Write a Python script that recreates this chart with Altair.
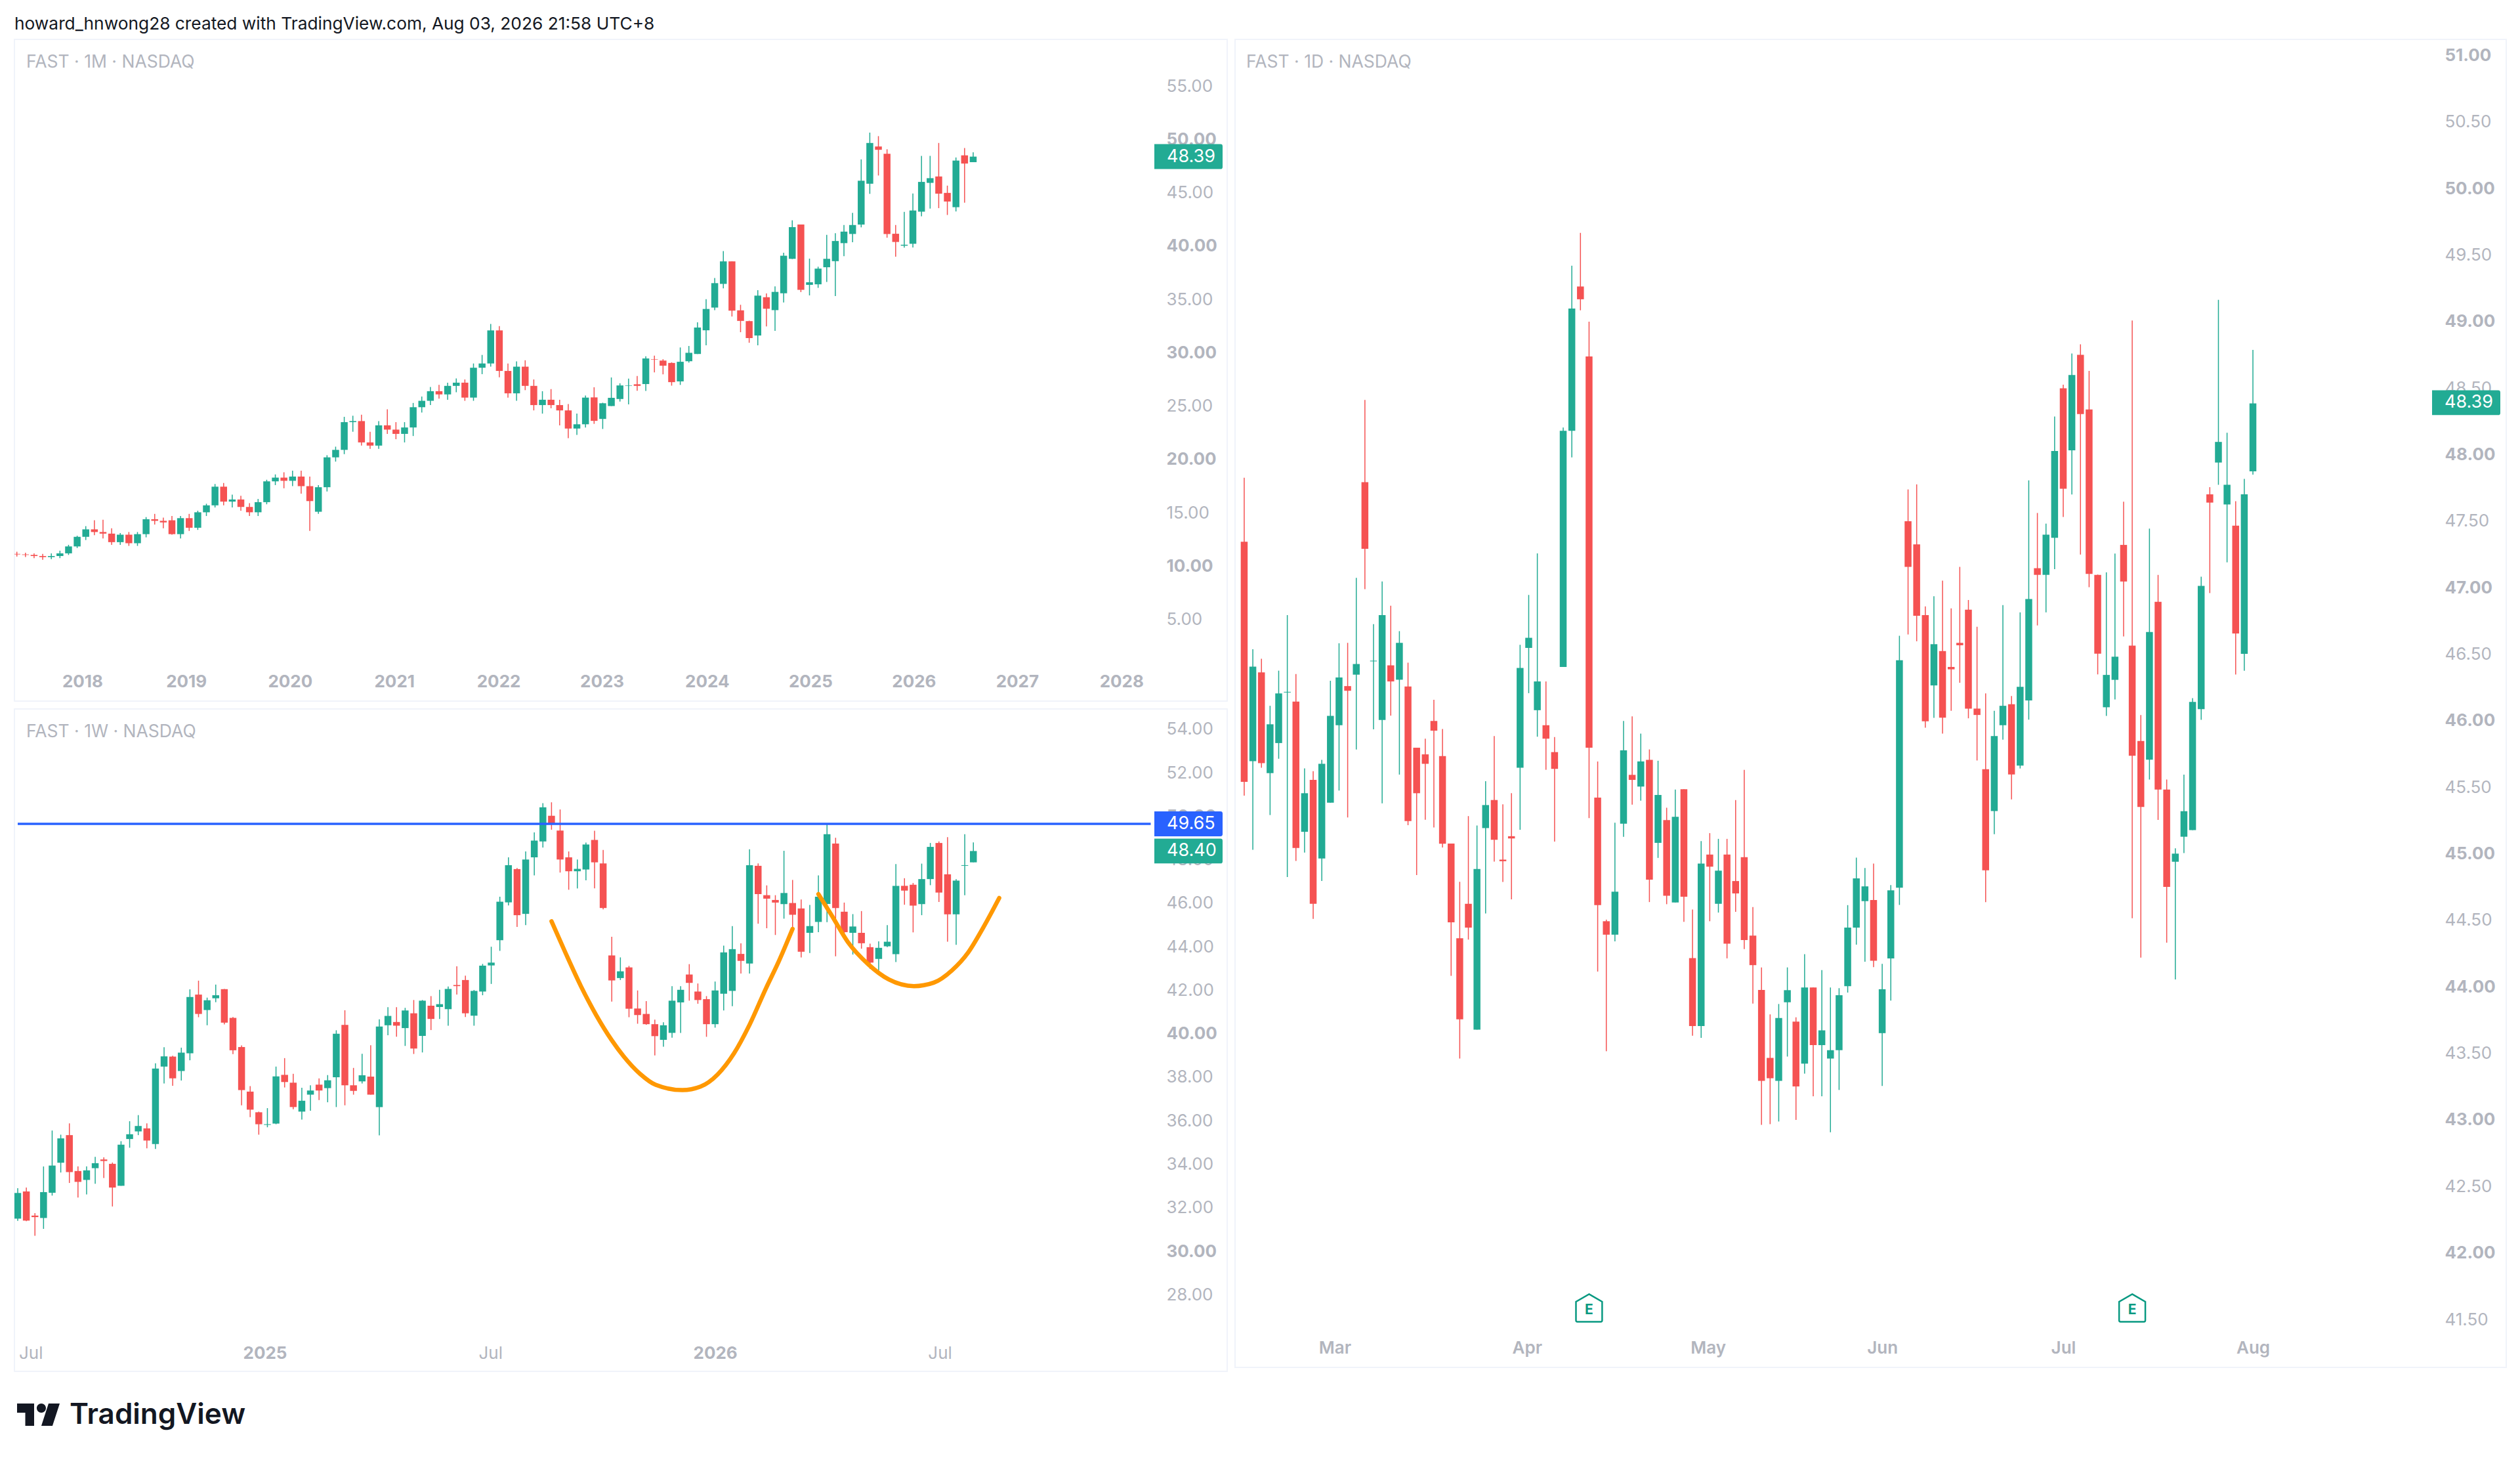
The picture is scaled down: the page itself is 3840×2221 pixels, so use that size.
import altair as alt
import pandas as pd

GREEN = "#22AB94"
RED = "#F55252"
BLUE = "#2962FF"
ORANGE = "#FF9800"
GREY = "#B2B5BE"
BORDER = "#F0F3FA"
FONT = "Inter"

# ---------- monthly ----------
m_open = [11.15,11.10,11.05,10.95,10.85,10.95,11.20,11.85,12.75,13.45,
          13.20,13.05,12.25,12.95,12.15,13.00,14.40,14.25,14.30,13.00,
          14.50,13.60,15.05,15.70,17.45,16.05,16.25,15.55,15.05,16.00,
          17.95,18.30,18.00,18.40,17.50,15.10,17.40,20.20,20.90,23.50,
          23.60,21.60,21.30,23.20,22.80,22.40,23.00,24.90,25.50,26.40,
          26.10,26.90,27.20,25.80,28.60,29.00,32.10,28.30,26.20,28.70,
          26.90,25.10,25.60,25.10,24.60,22.90,23.30,
          25.82,23.80,25.01,25.67,26.90,27.05,27.07,29.40,29.27,29.05,
          27.32,29.21,29.89,32.11,34.24,36.46,38.57,33.98,32.97,31.62,
          35.21,34.00,35.58,38.81,42.02,36.37,36.42,38.02,38.59,40.28,
          41.14,42.02,45.85,49.34,48.66,41.16,40.04,40.22,43.23,45.93,
          46.53,44.99,43.65,48.51,47.87]
m_high = [11.35,11.25,11.20,11.15,11.20,11.45,12.00,12.85,13.75,14.30,
          14.35,13.55,13.10,13.20,13.20,14.60,14.90,14.55,14.70,14.70,
          14.90,15.20,15.85,17.70,17.80,16.70,16.60,15.90,16.30,18.10,
          18.60,18.80,18.95,18.95,18.40,17.60,20.40,21.20,24.00,24.10,
          24.20,22.60,23.60,24.70,23.50,23.50,25.30,25.90,26.80,27.00,
          27.20,27.60,27.50,29.00,29.80,32.70,32.50,29.00,29.20,29.30,
          27.50,26.40,26.60,25.60,25.20,24.30,26.00,
          26.77,25.32,27.69,27.14,27.58,27.82,29.67,29.73,29.40,29.10,
          30.50,30.64,32.86,35.03,37.01,39.54,38.57,34.50,33.01,35.87,
          35.56,36.22,39.38,42.42,42.02,38.83,38.07,41.05,41.21,41.98,
          43.12,48.13,50.64,50.31,49.08,41.98,43.21,44.94,48.46,48.46,
          49.67,45.67,48.31,49.19,48.79]
m_low = [10.90,10.85,10.75,10.60,10.65,10.75,11.05,11.70,12.45,12.90,
         12.60,12.00,12.00,11.90,11.90,12.70,13.90,13.55,12.95,12.60,
         13.30,13.40,14.70,15.50,15.70,15.50,15.20,14.70,14.70,15.80,
         17.60,17.30,17.50,16.80,13.30,14.90,17.00,19.80,20.50,22.60,
         21.30,21.00,21.00,22.40,21.90,21.60,22.20,24.40,25.10,25.70,
         25.60,26.30,25.50,25.50,28.00,28.70,27.70,25.80,25.50,26.50,
         24.60,24.30,24.80,23.20,22.00,22.30,23.00,
         23.34,22.86,25.01,25.43,25.16,26.44,26.42,28.17,27.98,26.92,
         26.99,29.08,29.89,30.70,34.00,36.04,33.40,31.93,30.94,30.70,
         32.48,32.06,34.72,38.79,35.69,35.38,36.09,36.64,35.32,39.05,
         40.37,41.76,44.90,46.62,40.79,39.01,39.85,39.87,42.79,43.52,
         43.56,42.92,43.25,44.07,47.87]
m_close = [11.10,11.05,10.95,10.85,10.95,11.20,11.85,12.75,13.45,13.20,
           13.05,12.25,12.95,12.15,13.00,14.40,14.25,14.10,13.00,14.50,
           13.60,15.05,15.70,17.45,16.05,16.25,15.55,15.05,16.00,17.95,
           18.30,18.00,18.40,17.50,16.10,17.40,20.20,20.90,23.50,23.60,
           21.60,21.30,23.20,22.80,22.40,23.00,24.90,25.50,26.40,26.10,
           26.90,27.20,25.80,28.60,29.00,32.10,28.30,26.20,28.70,26.90,
           25.10,25.60,25.10,24.60,22.90,23.30,25.80,
           23.62,25.27,25.78,26.94,26.94,26.90,29.47,29.36,28.79,27.25,
           29.16,30.00,32.37,34.11,36.53,38.57,33.95,32.99,31.38,35.36,
           34.13,35.71,39.10,41.78,35.91,36.61,37.89,38.81,40.48,41.36,
           41.98,46.13,49.67,49.03,41.14,40.39,40.13,43.34,46.02,46.37,
           44.92,44.18,48.02,47.74,48.39]
m_ticks = [7.6,19.65,31.7,43.8,55.9,67.9,80.1,92.1,104.1,116.1,128.2]
m_tick_labels = ["2018","2019","2020","2021","2022","2023","2024","2025","2026","2027","2028"]
m_prices = [5,10,15,20,25,30,35,40,45,50,55]

# ---------- weekly ----------
w_open = [31.50,32.75,31.64,31.53,32.69,34.07,35.34,33.69,33.28,33.82,
          34.22,34.02,33.01,35.16,35.51,35.65,34.93,38.49,38.95,38.29,
          39.10,41.80,41.09,41.63,42.05,40.73,39.39,37.34,36.39,35.81,
          35.87,38.11,37.75,36.42,37.20,37.66,37.50,38.00,40.41,37.63,
          37.81,38.03,36.63,40.39,40.54,40.26,40.94,39.90,41.29,41.23,
          41.13,42.24,42.47,40.83,41.94,43.14,44.30,46.04,47.57,45.51,
          48.11,48.84,50.02,49.34,48.11,47.47,47.55,48.91,47.83,43.60,
          42.56,43.05,41.16,40.91,40.44,39.72,40.04,41.44,42.72,41.94,
          41.59,40.44,41.84,41.97,43.67,43.23,47.72,46.37,46.15,45.96,
          46.01,45.76,44.64,45.14,45.97,48.74,45.61,44.64,44.64,43.98,
          43.44,44.02,43.66,46.80,46.85,45.96,47.11,48.77,47.33,45.49,
          47.72,47.88]
w_high = [32.90,32.93,31.75,33.90,35.55,35.36,35.88,33.90,33.90,34.34,
          34.32,34.08,35.06,35.98,36.26,35.88,38.64,39.38,38.99,39.36,
          42.04,42.44,41.66,42.26,42.06,40.77,39.46,37.59,36.42,36.58,
          38.49,38.88,38.16,37.52,37.63,37.95,38.10,40.16,41.08,38.43,
          39.08,39.47,40.66,41.22,41.22,41.19,41.55,41.55,41.73,42.02,
          42.17,43.10,42.67,42.01,43.21,44.00,46.30,48.11,47.62,48.38,
          49.26,50.60,50.64,50.31,48.38,48.01,48.79,49.33,48.45,44.46,
          43.51,43.12,41.99,41.50,40.65,40.53,42.19,42.19,43.20,42.31,
          41.73,42.40,44.05,44.95,44.16,48.48,47.83,46.82,46.37,48.41,
          47.07,46.17,45.92,47.28,49.67,49.01,46.03,45.50,45.64,44.14,
          44.25,44.99,47.80,47.15,46.93,47.82,48.77,48.84,49.04,47.11,
          49.17,48.80]
w_low = [31.40,31.38,30.71,31.03,32.56,33.62,33.14,32.47,32.61,33.10,
         33.37,32.06,33.01,34.76,35.34,34.73,34.70,37.71,37.61,37.85,
         38.78,40.76,40.39,41.45,40.43,39.06,36.71,36.17,35.36,35.70,
         35.84,37.53,36.53,36.05,36.46,36.95,36.85,36.63,36.71,37.20,
         37.71,37.20,35.33,39.93,39.86,39.44,39.07,39.14,40.17,40.68,
         40.37,41.80,40.77,40.37,41.77,42.29,43.81,45.90,44.91,44.99,
         47.28,48.56,49.38,47.41,46.62,46.68,47.05,46.68,45.72,41.48,
         42.47,40.76,40.46,40.41,39.00,39.40,39.82,40.04,41.52,41.38,
         39.86,40.28,41.07,41.27,42.77,42.77,45.06,44.85,44.54,45.29,
         44.85,43.51,43.71,44.67,45.13,43.56,44.60,43.64,43.91,42.98,
         42.91,43.98,43.30,45.93,44.66,45.45,46.83,46.06,44.23,44.09,
         46.37,47.88]
w_close = [32.68,31.41,31.57,32.72,33.94,35.19,33.64,33.19,33.72,34.05,
           34.15,32.93,34.90,35.38,35.76,35.09,38.40,38.96,37.95,39.13,
           41.69,40.91,41.54,41.77,40.51,39.24,37.41,36.51,35.84,35.84,
           38.04,37.78,36.63,36.92,37.39,37.39,37.86,40.00,37.63,37.37,
           38.09,37.20,40.33,40.82,40.37,41.07,39.32,41.52,40.68,41.36,
           42.06,42.19,40.94,41.97,43.13,43.27,46.07,47.75,45.45,48.01,
           48.88,50.41,49.66,48.01,47.47,47.58,48.70,47.88,45.78,42.45,
           42.87,41.15,40.86,40.44,39.89,40.39,41.52,42.02,42.34,41.55,
           40.44,41.99,43.74,43.89,43.35,47.75,46.42,46.21,46.03,46.47,
           45.47,43.77,44.95,46.30,49.17,45.78,44.67,44.93,44.16,43.27,
           43.95,44.23,46.80,46.58,45.89,47.11,48.59,46.49,45.49,47.04,
           47.75,48.40]
w_ticks = [1.5,28.7,54.9,81,107.1]
w_tick_labels = ["Jul","2025","Jul","2026","Jul"]
w_bold_ticks = [28.7,81]
w_prices = [28,30,32,34,36,38,40,42,44,46,48,50,52,54]
resistance_price = [49.65]
resistance_from = [0]
resistance_to = [131.6]
cup_x = [62.0,63.6,65.4,67.2,69.0,70.4,72.3,74.1,77.2,79.3,81.3,83.2,85.0,86.9,88.4,90.0]
cup_y = [45.17,43.74,42.20,40.85,39.70,38.95,38.15,37.65,37.41,37.57,38.13,39.10,40.41,42.08,43.33,44.82]
handle_x = [93.0,94.5,96.4,98.8,101.2,104.1,106.4,108.5,110.4,112.1,114.0]
handle_y = [46.42,45.47,44.23,43.19,42.49,42.19,42.35,42.91,43.74,44.85,46.24]

# ---------- daily ----------
d_open = [47.345,45.696,46.363,45.606,45.832,46.212,46.144,45.165,45.555,44.964,
          45.384,45.966,46.260,46.346,47.793,46.446,46.006,46.416,46.308,46.257,
          45.797,45.747,45.998,45.734,45.077,44.365,44.624,43.678,45.193,45.404,
          44.956,45.132,45.646,46.547,46.079,45.966,45.764,46.404,48.178,49.263,
          48.737,45.422,44.493,44.392,45.226,45.593,45.505,45.706,45.082,45.253,
          44.634,45.485,44.216,43.705,44.994,44.624,44.994,44.795,44.974,44.385,
          43.977,43.466,43.293,43.884,43.738,43.423,43.995,43.562,43.461,43.524,
          44.005,44.445,44.644,44.652,43.652,44.214,44.745,47.499,47.325,46.794,
          46.265,46.524,46.404,46.585,46.834,46.091,45.636,45.321,45.966,46.124,
          45.663,46.152,47.146,47.096,47.375,48.498,48.032,48.750,48.339,47.096,
          46.101,46.307,47.321,46.564,45.848,45.707,46.894,45.482,44.940,45.128,
          45.178,46.087,47.701,47.940,47.625,47.466,46.503,47.874]
d_high = [47.826,46.537,46.466,46.112,46.376,46.794,46.351,45.641,45.621,45.706,
          46.300,46.582,46.585,47.073,48.410,46.726,47.046,46.864,46.673,46.436,
          45.797,45.865,46.157,45.938,45.077,44.790,45.283,45.213,45.545,45.885,
          45.371,45.455,46.570,46.945,47.257,46.295,45.877,48.203,49.419,49.666,
          48.999,45.694,44.505,45.233,45.998,46.033,45.903,45.784,45.699,45.346,
          45.482,45.485,44.581,45.095,45.155,45.112,45.112,45.404,45.631,44.599,
          44.146,43.793,43.871,44.146,43.771,44.246,43.995,44.126,43.995,43.990,
          44.614,44.971,44.893,44.926,44.173,44.765,46.638,47.738,47.776,46.859,
          46.935,47.053,46.844,47.156,46.907,46.706,46.205,46.074,46.869,46.185,
          46.814,47.806,47.561,47.481,48.286,48.525,48.760,48.828,48.629,47.098,
          47.115,47.256,47.646,49.007,46.043,47.444,47.096,45.558,45.041,45.595,
          46.170,47.082,47.755,49.163,48.164,47.650,47.817,48.786]
d_low = [45.437,45.030,45.646,45.291,45.714,44.825,44.946,45.009,44.511,44.795,
         45.384,45.475,45.273,45.784,46.988,45.935,45.379,46.038,45.595,45.215,
         44.840,45.256,45.198,45.047,44.083,43.461,44.355,43.678,44.551,44.941,
         44.788,44.657,45.180,46.207,45.880,45.631,45.092,46.404,47.979,49.084,
         45.268,44.115,43.516,44.342,45.127,45.369,45.399,44.637,44.969,44.621,
         44.634,44.488,43.632,43.617,44.493,44.558,44.214,44.564,44.284,43.874,
         42.963,42.968,42.988,43.476,43.000,43.348,43.177,43.177,42.907,43.225,
         43.957,44.317,44.189,44.148,43.255,43.897,44.616,46.648,46.597,45.948,
         46.021,45.903,46.074,46.285,46.018,45.701,44.637,45.147,45.857,45.409,
         45.641,46.008,46.716,46.814,47.139,47.531,47.700,47.249,47.003,46.348,
         46.036,46.159,46.633,44.516,44.219,45.558,45.254,44.332,44.056,45.005,
         45.178,46.007,46.959,47.773,47.190,46.347,46.376,47.849]
d_close = [45.540,46.406,45.681,45.973,46.205,46.217,45.044,45.455,44.624,45.676,
           46.036,46.325,46.225,46.426,47.292,46.451,46.794,46.295,46.585,45.246,
           45.455,45.676,45.925,45.075,44.485,43.756,44.445,44.886,45.366,45.105,
           44.944,45.115,46.396,46.623,46.295,45.865,45.638,48.178,49.097,49.167,
           45.797,44.614,44.392,44.715,45.777,45.555,45.694,44.805,45.442,44.684,
           45.278,44.677,43.705,44.926,44.903,44.873,44.324,44.702,44.352,44.163,
           43.293,43.313,43.766,43.975,43.252,43.995,43.562,43.673,43.524,43.937,
           44.445,44.815,44.755,44.196,43.982,44.725,46.454,47.156,46.789,45.996,
           46.575,46.023,46.386,46.567,46.091,46.043,44.876,45.885,46.112,45.596,
           46.255,46.915,47.096,47.398,48.027,47.743,48.598,48.304,47.103,46.504,
           46.344,46.481,47.046,45.736,45.352,46.666,45.482,44.751,45.001,45.320,
           46.141,47.013,47.639,48.095,47.773,46.655,47.701,48.385]
d_ticks = [10.5,32.8,53.8,74,95,117]
d_tick_labels = ["Mar","Apr","May","Jun","Jul","Aug"]
d_prices = [41.5,42,42.5,43,43.5,44,44.5,45,45.5,46,46.5,47,47.5,48,48.5,49,49.5,50,50.5,51]
earnings_x = [40,103]
earnings_y = [41.587,41.587]
earnings_text = ["E","E"]

TAG = "M-1,-.365 L.94,-.365 Q1,-.365 1,-.3 L1,.3 Q1,.365 .94,.365 L-1,.365 Z"
EARN = "M0,-1 L.95,-.45 L.95,.9 Q.95,1 .85,1 L-.85,1 Q-.95,1 -.95,.9 L-.95,-.45 Z"
LOGO = ("M-1,-.523 L-.2,-.523 L-.2,.523 L-.615,.523 L-.615,-.092 L-1,-.092 Z "
        "M-.077,-.308 A.215,.215 0 1 1 .353,-.308 A.215,.215 0 1 1 -.077,-.308 Z "
        "M.477,-.523 L1,-.523 L.66,.523 L.138,.523 Z")


def panel(o, h, l, c, width, height, xdom, ydom, ticks, tick_labels, bold_ticks, x_all_weight,
          prices, bold_test, y_offset, x_offset, caption, cap_x,
          tags, tag_cx, tag_tx, extra=()):
    df = pd.DataFrame({"i": list(range(len(o))), "open": o, "high": h, "low": l, "close": c})
    df["dir"] = ["up" if a >= b else "down" for a, b in zip(df["close"], df["open"])]
    xs = alt.Scale(domain=xdom, nice=False, zero=False)
    ys = alt.Scale(domain=ydom, nice=False, zero=False)
    colour = alt.Color("dir:N", scale=alt.Scale(domain=["up", "down"], range=[GREEN, RED]), legend=None)
    if x_all_weight:
        xbold = x_all_weight
    else:
        xbold = {"condition": {"test": f"indexof({bold_ticks},datum.value)>=0", "value": 700}, "value": 400}
    xaxis = alt.Axis(values=ticks, title=None, grid=False, domain=False, ticks=False, orient="bottom",
                     offset=x_offset, labelPadding=0, labelBaseline="middle", labelFont=FONT, labelFontSize=26,
                     labelColor=GREY, labelFontWeight=xbold, labelOverlap=False,
                     labelExpr=f"{tick_labels}[indexof({ticks},datum.value)]")
    yaxis = alt.Axis(values=prices, title=None, grid=False, domain=False, ticks=False, orient="right",
                     offset=y_offset, labelPadding=0, labelAlign="left", labelFont=FONT, labelFontSize=26,
                     labelColor=GREY, format=".2f", labelOverlap=False,
                     labelFontWeight={"condition": {"test": bold_test, "value": 700}, "value": 400})

    def X(field):
        return alt.X(field, scale=xs, axis=xaxis)

    def Y(field):
        return alt.Y(field, scale=ys, axis=yaxis)

    wick = alt.Chart(df).mark_rule(strokeWidth=1.5, clip=True).encode(
        x=X("i:Q"), y=Y("low:Q"), y2="high:Q", color=colour)
    body = alt.Chart(df).mark_bar(size=10.5, clip=True).encode(
        x=X("i:Q"), y=Y("open:Q"), y2="close:Q", color=colour)
    cap = alt.Chart(pd.DataFrame({"t": [caption]})).mark_text(
        align="left", baseline="middle", font=FONT, fontSize=26.5, color=GREY).encode(
        text="t:N", x=alt.value(cap_x), y=alt.value(35))
    layers = [wick, body] + [e(X, Y) for e in extra]
    tag_df = pd.DataFrame(tags, columns=["price", "label", "col"])
    tag_box = alt.Chart(tag_df).mark_point(
        shape=TAG, size=104 * 104, filled=True, opacity=1, strokeWidth=0).encode(
        x=alt.value(tag_cx), y=Y("price:Q"), color=alt.Color("col:N", scale=None, legend=None))
    tag_text = alt.Chart(tag_df).mark_text(
        align="left", baseline="middle", font=FONT, fontSize=27, color="white").encode(
        x=alt.value(tag_tx), y=Y("price:Q"), text="label:N")
    layers += [tag_box, tag_text, cap]
    return alt.layer(*layers).properties(width=width, height=height)


def weekly_extra_line(X, Y):
    return alt.Chart(pd.DataFrame({"p": resistance_price, "a": resistance_from, "b": resistance_to})).mark_rule(
        color=BLUE, strokeWidth=3.5).encode(x=X("a:Q"), x2="b:Q", y=Y("p:Q"))


def weekly_extra_curve(xs_vals, ys_vals):
    def build(X, Y):
        return alt.Chart(pd.DataFrame({"x": xs_vals, "y": ys_vals})).mark_line(
            color=ORANGE, strokeWidth=6.5, interpolate="monotone", strokeCap="round").encode(
            x=X("x:Q"), y=Y("y:Q"))
    return build


def earnings_icon(X, Y):
    return alt.Chart(pd.DataFrame({"x": earnings_x, "y": earnings_y})).mark_point(
        shape=EARN, size=1764, filled=True, fill="white", stroke="#089981", strokeWidth=2.5, opacity=1).encode(
        x=X("x:Q"), y=Y("y:Q"))


def earnings_letter(X, Y):
    return alt.Chart(pd.DataFrame({"x": earnings_x, "y": earnings_y, "t": earnings_text})).mark_text(
        font=FONT, fontSize=21, fontWeight=700, color="#089981", baseline="middle", dy=4).encode(
        x=X("x:Q"), y=Y("y:Q"), text="t:N")


top = panel(m_open, m_high, m_low, m_close, 1848, 1008, [0.1, 140.1], [-2.65, 59.38],
            m_ticks, m_tick_labels, m_ticks, 700, m_prices, "datum.value % 10 === 0", -93, -30,
            "FAST · 1M · NASDAQ", 18, [[48.39, "48.39", GREEN]], 1789, 1756)

bottom = panel(w_open, w_high, w_low, w_close, 1848, 1009, [0, 140.1], [24.48, 54.93],
               w_ticks, w_tick_labels, w_bold_ticks, None, w_prices, "datum.value % 10 === 0", -93, -28,
               "FAST · 1W · NASDAQ", 18,
               [[49.65, "49.65", BLUE], [48.40, "48.40", GREEN]], 1789, 1756,
               extra=[weekly_extra_line, weekly_extra_curve(cup_x, cup_y), weekly_extra_curve(handle_x, handle_y)])

right = panel(d_open, d_high, d_low, d_close, 1937, 2023, [-0.68, 146.0], [41.14, 51.12],
              d_ticks, d_tick_labels, d_ticks, 600, d_prices, "datum.value % 1 === 0", -94, -30,
              "FAST · 1D · NASDAQ", 17, [[48.39, "48.39", GREEN]], 1876, 1843,
              extra=[earnings_icon, earnings_letter])

header = alt.Chart(pd.DataFrame({"t": ["howard_hnwong28 created with TradingView.com, Aug 03, 2026 21:58 UTC+8"]})).mark_text(
    align="left", baseline="middle", font=FONT, fontSize=26.3, color="#131722").encode(
    text="t:N", x=alt.value(0), y=alt.value(28)).properties(
    width=3796, height=49, view=alt.ViewBackground(stroke="transparent"))

logo_icon = alt.Chart(pd.DataFrame({"t": ["logo"]})).mark_point(
    shape=LOGO, size=4225, filled=True, opacity=1, color="#131722", strokeWidth=0).encode(
    x=alt.value(36.5), y=alt.value(64))
logo_text = alt.Chart(pd.DataFrame({"t": ["TradingView"]})).mark_text(
    align="left", baseline="middle", font=FONT, fontSize=44, fontWeight=600, color="#131722").encode(
    text="t:N", x=alt.value(84), y=alt.value(65))
footer = alt.layer(logo_icon, logo_text).properties(
    width=3796, height=110, view=alt.ViewBackground(stroke="transparent"))

left = alt.vconcat(top, bottom, spacing=10)
main = alt.hconcat(left, right, spacing=10)
chart = alt.vconcat(header, main, footer, spacing=0).properties(
    padding={"left": 13, "top": 0, "right": 0, "bottom": 0}, background="white"
).configure_view(stroke=BORDER, strokeWidth=2)

chart.save("out.html", embed_options={"renderer": "svg", "actions": False})
